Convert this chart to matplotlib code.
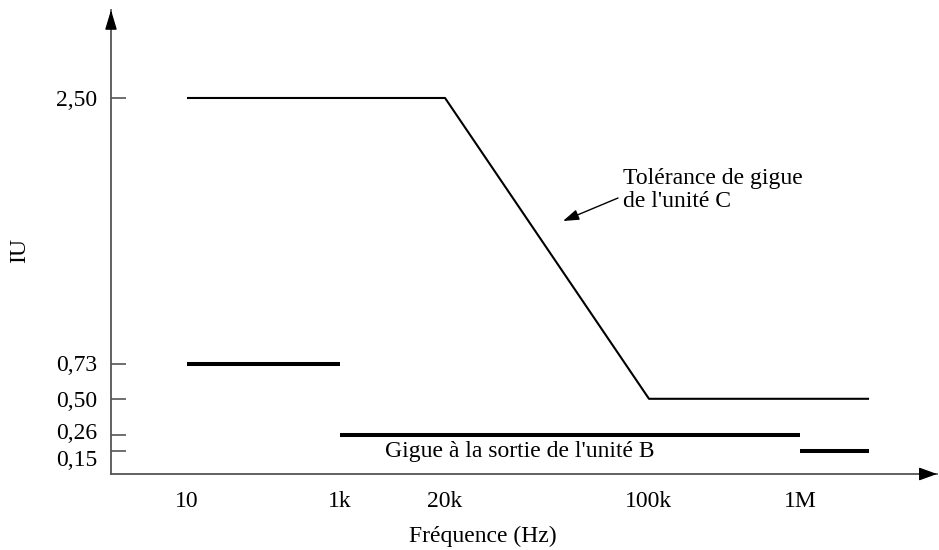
import numpy as np
import matplotlib
matplotlib.use("Agg")
import matplotlib.pyplot as plt
from matplotlib.transforms import ScaledTranslation

# donnees du schema
freq_ticks = [10, 1e3, 2e4, 1e5, 1e6]
freq_labels = ["10", "1k", "20k", "100k", "1M"]
f_fin = 5e6

iu_ticks = [0.15, 0.26, 0.50, 0.73, 2.50]
iu_labels = ["0,15", "0,26", "0,50", "0,73", "2,50"]

# tolerance de gigue de l'unite C
tol_freq = [10, 2e4, 1e5, f_fin]
tol_iu = [2.50, 2.50, 0.50, 0.50]

# gigue a la sortie de l'unite B (segments)
gig_freq = [(10, 1e3), (1e3, 1e6), (1e6, f_fin)]
gig_iu = [0.73, 0.26, 0.15]

# echelle schematique (non proportionnelle) pour l'axe des frequences
ech_log = [0, 1, 3, np.log10(2e4), 5, 6, np.log10(f_fin), 8]
ech_pos = [0, 0.920, 2.772, 4.044, 6.513, 8.341, 9.177, 10]


def fwd(x):
    x = np.clip(np.asarray(x, dtype=float), 1e-12, None)
    return np.interp(np.log10(x), ech_log, ech_pos)


def inv(p):
    return 10 ** np.interp(np.asarray(p, dtype=float), ech_pos, ech_log)


plt.rcParams["font.family"] = ["Liberation Serif", "DejaVu Serif"]
fs = 17

fig = plt.figure(figsize=(9.39, 5.5), dpi=100)
ax = fig.add_axes([111 / 939, 76 / 550, 826 / 939, 464 / 550])

ax.set_xscale("function", functions=(fwd, inv))
ax.set_xlim(1, 1e8)
ax.set_ylim(0, 3.085)

# courbes
ax.plot(tol_freq, tol_iu, color="black", lw=1.5, solid_capstyle="butt")
for (f0, f1), v in zip(gig_freq, gig_iu):
    ax.plot([f0, f1], [v, v], color="black", lw=2.9, solid_capstyle="butt")

# axes
for s in ["top", "right"]:
    ax.spines[s].set_visible(False)
for s in ["left", "bottom"]:
    ax.spines[s].set_color("#555555")
    ax.spines[s].set_linewidth(1.3)

ax.annotate("", xy=(1, 0), xytext=(0.98, 0), xycoords="axes fraction",
            arrowprops=dict(arrowstyle="-|>,head_length=0.55,head_width=0.2",
                            color="black", lw=1, mutation_scale=20,
                            shrinkA=0, shrinkB=0))
ax.annotate("", xy=(0, 1), xytext=(0, 0.97), xycoords="axes fraction",
            arrowprops=dict(arrowstyle="-|>,head_length=0.6,head_width=0.18",
                            color="black", lw=1, mutation_scale=20,
                            shrinkA=0, shrinkB=0))

ax.set_xticks(freq_ticks)
ax.set_xticklabels(freq_labels)
ax.xaxis.set_minor_locator(matplotlib.ticker.NullLocator())
ax.tick_params(axis="x", length=0, pad=12, labelsize=fs)

ax.set_yticks(iu_ticks)
ax.set_yticklabels(iu_labels)
ax.tick_params(axis="y", direction="in", length=11, width=1.2,
               color="#555555", pad=10, labelsize=fs)

# decaler les etiquettes 0,15 et 0,26 pour qu'elles ne se chevauchent pas
decal = {"0,15": -5, "0,26": 3, "0,73": 1}
for lab in ax.get_yticklabels():
    d = decal.get(lab.get_text(), 0)
    if d:
        lab.set_transform(lab.get_transform()
                          + ScaledTranslation(0, d / 72, fig.dpi_scale_trans))

# textes
ax.text((385 - 111) / 826, (474 - 452) / 464, "Gigue à la sortie de l'unité B",
        transform=ax.transAxes, fontsize=fs, ha="left", va="center")
ax.text((623 - 111) / 826, (474 - 190) / 464, "Tolérance de gigue\nde l'unité C",
        transform=ax.transAxes, fontsize=fs, ha="left", va="center",
        linespacing=1.1)
ax.annotate("", xy=((563 - 111) / 826, (474 - 221) / 464),
            xytext=((618 - 111) / 826, (474 - 198) / 464),
            xycoords="axes fraction",
            arrowprops=dict(arrowstyle="-|>,head_length=0.6,head_width=0.2",
                            color="black", lw=1, mutation_scale=16,
                            shrinkA=0, shrinkB=0))

fig.text(483 / 939, 1 - 536 / 550, "Fréquence (Hz)", fontsize=fs,
         ha="center", va="center")
fig.text(20 / 939, 1 - 250 / 550, "IU", fontsize=fs, rotation=90,
         ha="center", va="center")

fig.savefig("out.png", dpi=100)
